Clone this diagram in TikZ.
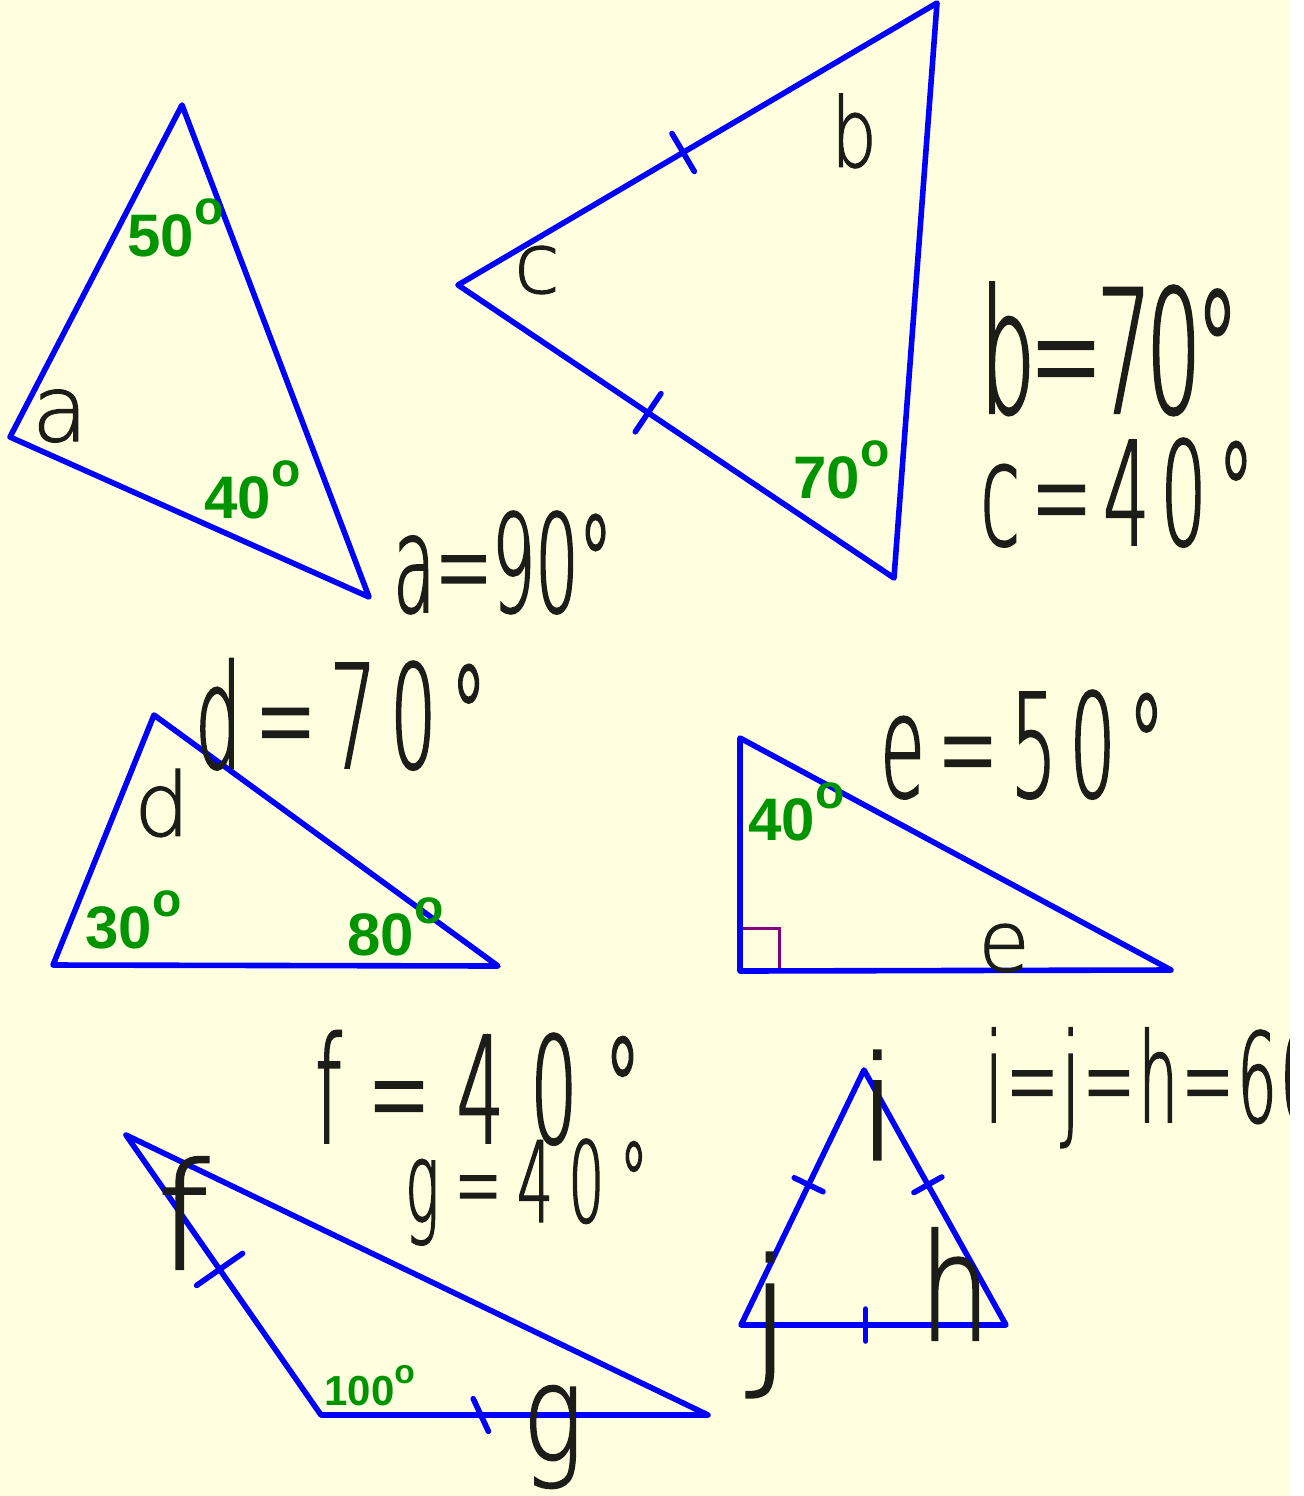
\documentclass[tikz,border=0pt]{standalone}
\usepackage{fontspec}
\usepackage{graphicx}
\usetikzlibrary{calc}
\setmainfont{Liberation Sans}
\newfontfamily\handfont[FakeStretch=0.5,FakeBold=1.3]{DejaVu Sans ExtraLight}
\newfontfamily\handletter[FakeBold=1.3]{DejaVu Sans ExtraLight}
\newfontfamily\handnarrow[FakeStretch=0.75,FakeBold=1.3]{DejaVu Sans ExtraLight}
\newcommand\greendeg{\raisebox{0.52em}{\scalebox{0.8}{o}}}
\definecolor{PaperYellow}{HTML}{FFFFE0}
\definecolor{EdgeBlue}{HTML}{0000FF}
\definecolor{AngleGreen}{HTML}{009400}
\definecolor{InkGrey}{HTML}{1C1C18}
\definecolor{RightPurple}{HTML}{800080}

\begin{document}
\begin{tikzpicture}[x=0.5pt,y=-0.5pt,
    edge/.style={draw=EdgeBlue, line width=2.8pt, line join=round, line cap=round},
    tickmark/.style={draw=EdgeBlue, line width=2.8pt, line cap=round},
    angtext/.style={text=AngleGreen, font=\bfseries\fontsize{#1}{#1}\selectfont, inner sep=0pt, anchor=base west},
    angtext/.default=30pt,
    working/.style 2 args={text=InkGrey, font=\handfont\fontsize{#1}{#1}\selectfont\addfontfeature{LetterSpace=#2}, inner sep=0pt, anchor=base west},
    letterlabel/.style={text=InkGrey, font=\handletter\fontsize{#1}{#1}\selectfont, inner sep=0pt},
    narrowlabel/.style={text=InkGrey, font=\handnarrow\fontsize{#1}{#1}\selectfont, inner sep=0pt}]
  \useasboundingbox (0,0) rectangle (1304,1496);
  \fill[PaperYellow] (0,0) rectangle (1290,1496);

  % triangle with a
  \coordinate (a1) at (182,105);
  \coordinate (a2) at (10,437);
  \coordinate (a3) at (369,597);
  \draw[edge] (a1) -- (a2) -- (a3) -- cycle;
  \node[angtext] (a1ang) at (127,256) {50\greendeg};
  \node[angtext] (a3ang) at (204,518) {40\greendeg};
  \node[letterlabel=46pt] (alab) at (60,416) {a};
  \node[working={68pt}{0}] (asum) at (393,612) {a=90°};

  % isosceles triangle with b and c
  \coordinate (b1) at (458,285);
  \coordinate (b2) at (937,3);
  \coordinate (b3) at (894,578);
  \draw[edge] (b1) -- (b2) -- (b3) -- cycle;
  \draw[tickmark] ($(b1)!0.47!(b2)!11pt!90:(b2)$) -- ($(b1)!0.47!(b2)!11pt!-90:(b2)$);
  \draw[tickmark] ($(b1)!0.436!(b3)!11.5pt!90:(b3)$) -- ($(b1)!0.436!(b3)!11.5pt!-90:(b3)$);
  \node[angtext] (b3ang) at (793,498) {70\greendeg};
  \node[narrowlabel=48pt] (blab) at (854,131) {b};
  \node[letterlabel=42pt] (clab) at (537,270) {c};
  \node[working={86pt}{-3}] (bsum) at (980,413) {b=70°};
  \node[working={72pt}{8}] (csum) at (980,545) {c=40°};

  % triangle with d
  \coordinate (d1) at (154,715);
  \coordinate (d2) at (53,965);
  \coordinate (d3) at (498,966);
  \draw[edge] (d1) -- (d2) -- (d3) -- cycle;
  \node[angtext] (d2ang) at (85,948) {30\greendeg};
  \node[angtext] (d3ang) at (347,955) {80\greendeg};
  \node[letterlabel=44pt] (dlab) at (162,803) {d};
  \node[working={72pt}{10}] (dsum) at (195,768) {d=70°};

  % right-angled triangle with e
  \coordinate (e1) at (740,738);
  \coordinate (e2) at (740,971);
  \coordinate (e3) at (1171,970);
  \draw[RightPurple, line width=1.5pt] ($(e2)+(0,-43)$) -- ($(e2)+(39,-43)$) -- ($(e2)+(39,0)$);
  \draw[edge] (e1) -- (e2) -- (e3) -- cycle;
  \node[angtext] (e1ang) at (748,840) {40\greendeg};
  \node[letterlabel=42pt] (elab) at (1004,948) {e};
  \node[working={72pt}{9}] (esum) at (880,797) {e=50°};

  % obtuse triangle with f and g
  \coordinate (f1) at (126,1135);
  \coordinate (f2) at (321,1415);
  \coordinate (f3) at (708,1415);
  \draw[edge] (f1) -- (f2) -- (f3) -- cycle;
  \draw[tickmark] ($(f1)!0.48!(f2)!14pt!90:(f2)$) -- ($(f1)!0.48!(f2)!14pt!-90:(f2)$);
  \draw[tickmark] ($(f2)!0.413!(f3)!9pt!-65:(f3)$) -- ($(f2)!0.413!(f3)!9pt!115:(f3)$);
  \node[angtext=21pt] (f2ang) at (324,1405) {100\greendeg};
  \node[letterlabel=74pt] (flab) at (183,1213) {f};
  \node[narrowlabel=67pt] (glab) at (553,1437) {g};
  \node[working={74pt}{18}] (fsum) at (315,1143) {f=40°};
  \node[working={56pt}{14}] (gsum) at (405,1222) {g=40°};

  % equilateral triangle with h, i and j
  \coordinate (h1) at (864,1070);
  \coordinate (h2) at (741,1325);
  \coordinate (h3) at (1006,1325);
  \draw[edge] (h1) -- (h2) -- (h3) -- cycle;
  \draw[tickmark] ($(h1)!0.45!(h2)!8pt!90:(h2)$) -- ($(h1)!0.45!(h2)!8pt!-90:(h2)$);
  \draw[tickmark] ($(h1)!0.45!(h3)!8pt!90:(h3)$) -- ($(h1)!0.45!(h3)!8pt!-90:(h3)$);
  \draw[tickmark] ($(h2)!0.47!(h3)!8pt!90:(h3)$) -- ($(h2)!0.47!(h3)!8pt!-90:(h3)$);
  \node[letterlabel=72pt] (ilab) at (878,1105) {i};
  \node[letterlabel=75pt] (jlab) at (770,1325) {j};
  \node[narrowlabel=74pt] (hlab) at (955,1284) {h};
  \node[working={62pt}{3}] (ijhsum) at (985,1122) {i=j=h=60°};

  \fill[white] (1290,0) rectangle (1304,1496);
\end{tikzpicture}
\end{document}
